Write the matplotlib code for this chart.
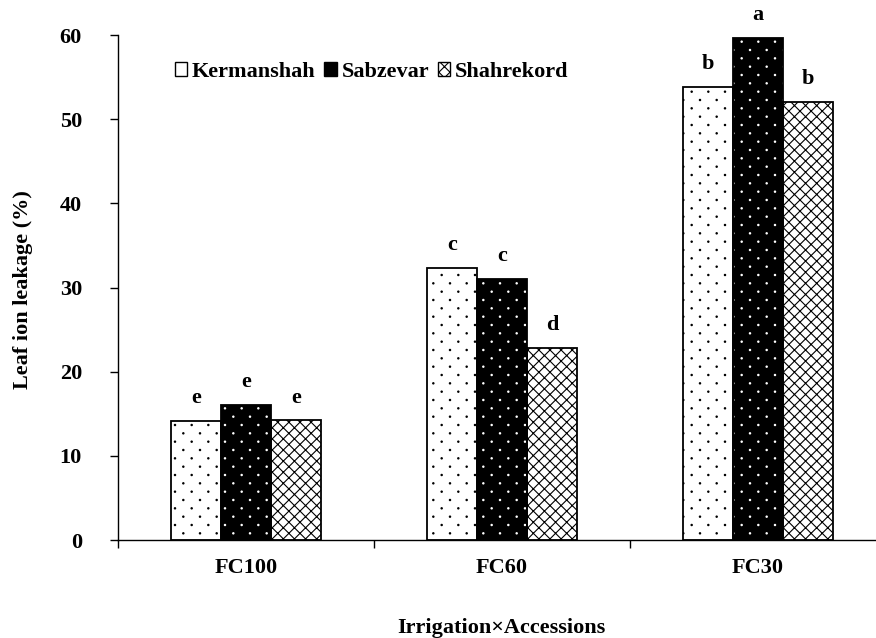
import numpy as np
import matplotlib.pyplot as plt
import matplotlib.hatch as mhatch
from matplotlib.patches import Patch
from matplotlib.path import Path

plt.rcParams['font.family'] = 'Liberation Serif'
plt.rcParams['font.weight'] = 'bold'
plt.rcParams['hatch.linewidth'] = 0.8

# leaf ion leakage (%) per irrigation level and accession
irrigation = ['FC100', 'FC60', 'FC30']
accessions = ['Kermanshah', 'Sabzevar', 'Shahrekord']
kermanshah = [14.1, 32.3, 53.8]
sabzevar = [16.0, 31.0, 59.7]
shahrekord = [14.2, 22.8, 52.1]
letters_k = ['e', 'c', 'b']
letters_s = ['e', 'c', 'a']
letters_sh = ['e', 'd', 'b']


class SparseDots(mhatch.Shapes):
    """'*' hatch: staggered dots, 6 per inch across, rows every 1/12 inch."""
    size = 0.04
    filled = True

    def __init__(self, hatch, density):
        self.n = 6 if '*' in hatch else 0
        circle = Path.unit_circle()
        self.shape_vertices = circle.vertices
        self.shape_codes = circle.codes
        self.num_shapes = (self.n + 1) ** 2 + self.n ** 2 if self.n else 0
        self.num_vertices = self.num_shapes * len(self.shape_vertices)

    def set_vertices_and_codes(self, vertices, codes):
        step = 1.0 / self.n
        shape = self.shape_vertices * step * self.size
        vparts, cparts = [], []
        for row in range(2 * self.n + 1):
            if row % 2 == 0:
                cols = np.linspace(0, 1, self.n + 1)
            else:
                cols = np.linspace(step / 2, 1 - step / 2, self.n)
            for c in cols:
                vparts.append(shape + [c, row * step / 2])
                cparts.append(self.shape_codes)
        np.concatenate(vparts, out=vertices)
        np.concatenate(cparts, out=codes)


mhatch._hatch_types = [t for t in mhatch._hatch_types if t is not mhatch.Stars]
mhatch._hatch_types.append(SparseDots)

fig = plt.figure(figsize=(8.76, 6.38), dpi=100)
ax = fig.add_axes([0.1347, 0.1536, 0.8767, 0.7915])

x = np.arange(len(irrigation))
w = 0.195
fs = 16

# white bars with black dots
ax.bar(x - w, kermanshah, w, facecolor='white', edgecolor='black',
       hatch='*', linewidth=0, zorder=2)
ax.bar(x - w, kermanshah, w, fill=False, edgecolor='black', linewidth=1.3, zorder=3)
# black bars with white dots
ax.bar(x, sabzevar, w, facecolor='black', edgecolor='white',
       hatch='*', linewidth=0, zorder=2)
ax.bar(x, sabzevar, w, fill=False, edgecolor='black', linewidth=1.3, zorder=3)
# cross-hatched bars
ax.bar(x + w, shahrekord, w, facecolor='white', edgecolor='black',
       hatch='xxx', linewidth=0, zorder=2)
ax.bar(x + w, shahrekord, w, fill=False, edgecolor='black', linewidth=1.3, zorder=3)

# significance letters
for off, vals, labs in [(-w, kermanshah, letters_k), (0, sabzevar, letters_s),
                        (w, shahrekord, letters_sh)]:
    for xi, v, t in zip(x + off, vals, labs):
        ax.annotate(t, (xi, v), xytext=(0, 16.5), textcoords='offset points',
                    ha='center', va='center', fontsize=fs, fontweight='bold')

ax.set_xlim(-0.5, 2.5)
ax.set_ylim(0, 60)
ax.set_yticks(np.arange(0, 61, 10))
ax.set_xticks([-0.5, 0.5, 1.5, 2.5])
ax.set_xticklabels([])
ax.set_xticks(x, minor=True)
ax.set_xticklabels(irrigation, minor=True)
ax.tick_params(axis='x', which='minor', length=0, pad=13, labelsize=fs)
ax.tick_params(axis='x', which='major', length=6, width=1, direction='out')
ax.tick_params(axis='y', length=6, width=1, direction='out', labelsize=fs, pad=20)
for lab in ax.get_xticklabels(minor=True) + ax.get_yticklabels():
    lab.set_fontweight('bold')

for s in ['top', 'right']:
    ax.spines[s].set_visible(False)
for s in ['left', 'bottom']:
    ax.spines[s].set_linewidth(1)

ax.set_ylabel('Leaf ion leakage (%)', fontsize=fs, fontweight='bold')
ax.yaxis.set_label_coords(-0.111, 0.495)
ax.set_xlabel('Irrigation\u00d7Accessions', fontsize=fs, fontweight='bold')
ax.xaxis.set_label_coords(0.499, -0.155)

handles = [
    Patch(facecolor='white', edgecolor='black', linewidth=1),
    Patch(facecolor='black', edgecolor='black', linewidth=1),
    Patch(facecolor='white', edgecolor='black', hatch='xxx', linewidth=1),
]
ax.legend(handles, accessions, loc='center left', bbox_to_anchor=(0.074, 0.927),
          ncol=3, frameon=False, borderpad=0, borderaxespad=0,
          handlelength=0.55, handleheight=0.55, handletextpad=0.22,
          columnspacing=0.4, prop={'size': fs, 'weight': 'bold'})

fig.savefig('out.png', dpi=100)
